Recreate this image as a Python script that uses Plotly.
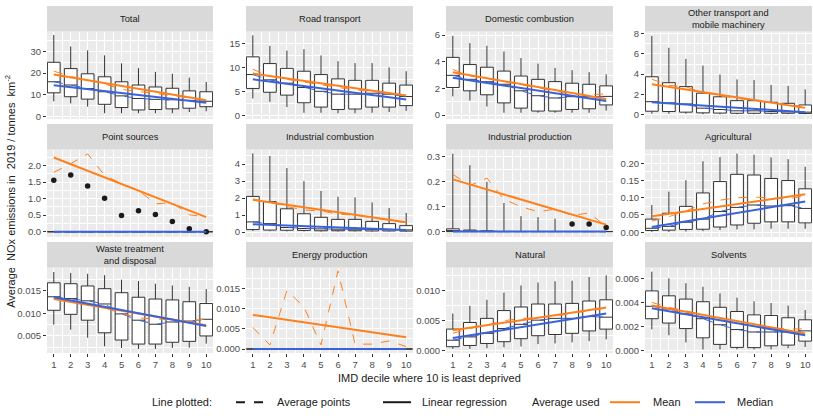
import plotly.graph_objects as go
from plotly.subplots import make_subplots

W, H = 813, 418
deciles = list(range(1, 11))

titles = ["Total", "Road transport", "Domestic combustion", "Other transport and<br>mobile machinery",
          "Point sources", "Industrial combustion", "Industrial production", "Agricultural",
          "Waste treatment<br>and disposal", "Energy production", "Natural", "Solvents"]

# ---------------- data ----------------
total_lo = [7, 6, 4.5, 1.5, 1.5, 1.5, 1.5, 1.5, 2, 2.4]
total_q1 = [10.9, 9.1, 8, 5.6, 4.1, 3, 3.2, 3.5, 3.8, 4.5]
total_med = [16, 14.5, 12.9, 11.4, 9.5, 8.3, 7.9, 7.7, 7.4, 7]
total_q3 = [25, 22.1, 19.7, 18.3, 16, 14.5, 13.6, 13, 11.8, 11.4]
total_hi = [37.6, 32.3, 30.5, 28.2, 24.5, 22.3, 20.6, 19.7, 17.9, 15.9]
total_mean = [20.9, 18.5, 16.8, 15.0, 12.5, 11.5, 10.5, 9.8, 8.8, 7.6]
total_mean_fit = [19.4, 7.5]
total_median_fit = [14.4, 6.3]

road_lo = [3.6, 2.9, 1.8, 0.6, 0.6, 0.5, 0.5, 0.6, 0.75, 1]
road_q1 = [5.7, 4.9, 4.3, 2.7, 1.8, 1.3, 1.4, 1.8, 1.8, 2.1]
road_med = [8.6, 7.5, 6.8, 5.9, 5.1, 4.5, 4.5, 4.7, 4.5, 4]
road_q3 = [12.3, 10.9, 9.9, 9.3, 8.6, 7.7, 7.4, 7.4, 6.8, 6.4]
road_hi = [16.8, 14.6, 13.6, 13.9, 12.6, 11.4, 11, 11, 10.1, 9.3]
road_mean = [9.7, 8.3, 7.6, 7.0, 6.4, 5.9, 5.4, 5.0, 4.7, 4.3]
road_mean_fit = [8.8, 4.2]
road_median_fit = [7.6, 3.4]

dom_lo = [1.4, 1.08, 0.64, 0.17, 0.17, 0.17, 0.17, 0.17, 0.17, 0.34]
dom_q1 = [2.07, 1.82, 1.52, 0.91, 0.52, 0.3, 0.3, 0.42, 0.47, 0.76]
dom_med = [2.98, 2.68, 2.5, 2.31, 1.82, 1.45, 1.28, 1.38, 1.38, 1.4]
dom_q3 = [4.33, 3.79, 3.59, 3.3, 2.93, 2.68, 2.51, 2.39, 2.31, 2.19]
dom_hi = [5.95, 5.4, 5.2, 4.77, 4.28, 3.86, 3.54, 3.37, 3.22, 3.05]
dom_mean = [3.42, 2.95, 2.75, 2.5, 2.25, 2.0, 1.8, 1.6, 1.5, 1.6]
dom_mean_fit = [3.22, 1.2]
dom_median_fit = [2.8, 1.06]

oth_lo = [0.1, 0.1, 0.1, 0.05, 0.05, 0.05, 0.05, 0.05, 0.05, 0.05]
oth_q1 = [0.35, 0.32, 0.26, 0.19, 0.17, 0.15, 0.15, 0.15, 0.15, 0.13]
oth_med = [1.29, 1.16, 1.06, 0.65, 0.52, 0.39, 0.39, 0.32, 0.29, 0.26]
oth_q3 = [3.74, 3.16, 2.77, 2.13, 1.77, 1.39, 1.39, 1.23, 1.13, 0.97]
oth_hi = [7.77, 6.6, 5.5, 4.84, 3.97, 3.48, 3.42, 2.94, 2.84, 2.5]
oth_mean = [3.5, 2.9, 2.75, 2.2, 1.85, 1.6, 1.4, 1.2, 1.0, 0.8]
oth_mean_fit = [3.0, 0.68]
oth_median_fit = [1.23, 0.26]

pt_zero = [0, 0, 0, 0, 0, 0, 0, 0, 0, 0]
pt_outliers = [1.55, 1.71, 1.38, 1.01, 0.49, 0.63, 0.52, 0.31, 0.09, 0.0]
pt_mean = [1.79, 2.05, 2.35, 1.7, 1.45, 1.25, 0.84, 0.88, 0.51, 0.45]
pt_mean_fit = [2.24, 0.44]
pt_median_fit = [0, 0]

ic_lo = [0.06, 0.05, 0.04, 0.04, 0.03, 0.03, 0.03, 0.03, 0.03, 0.03]
ic_q1 = [0.15, 0.12, 0.11, 0.1, 0.08, 0.08, 0.08, 0.07, 0.07, 0.06]
ic_med = [0.6, 0.5, 0.27, 0.21, 0.19, 0.17, 0.17, 0.15, 0.15, 0.13]
ic_q3 = [2.1, 1.79, 1.37, 1.08, 0.87, 0.75, 0.75, 0.63, 0.5, 0.38]
ic_hi = [4.63, 4.48, 3.77, 3.0, 2.42, 2.08, 2.04, 1.75, 1.42, 1.13]
ic_mean = [1.95, 1.75, 1.5, 1.3, 1.25, 1.05, 1.0, 0.85, 0.72, 0.55]
ic_mean_fit = [1.9, 0.58]
ic_median_fit = [0.46, 0.12]

ip_lo = [0, 0, 0, 0, 0, 0, 0, 0, 0, 0]
ip_q1 = [0, 0, 0, 0, 0, 0, 0, 0, 0, 0]
ip_med = [0.002, 0.001, 0, 0, 0, 0, 0, 0, 0, 0]
ip_q3 = [0.011, 0.006, 0.003, 0, 0, 0, 0, 0, 0, 0]
ip_hi = [0.313, 0.267, 0.2, 0.115, 0.062, 0.058, 0.052, 0, 0, 0]
ip_out_x = [8, 9, 10]
ip_outliers = [0.03, 0.03, 0.016]
ip_mean = [0.23, 0.185, 0.215, 0.13, 0.1, 0.08, 0.09, 0.065, 0.075, 0.02]
ip_mean_fit = [0.21, 0.028]
ip_median_fit = [0, 0]

ag_lo = [0.001, 0.001, 0.002, 0.003, 0.006, 0.008, 0.008, 0.01, 0.01, 0.01]
ag_q1 = [0.005, 0.006, 0.008, 0.0086, 0.015, 0.021, 0.026, 0.03, 0.03, 0.027]
ag_med = [0.0114, 0.017, 0.029, 0.038, 0.06, 0.072, 0.079, 0.076, 0.077, 0.069]
ag_q3 = [0.038, 0.055, 0.075, 0.114, 0.147, 0.168, 0.166, 0.156, 0.15, 0.126]
ag_hi = [0.079, 0.118, 0.151, 0.206, 0.218, 0.228, 0.225, 0.217, 0.212, 0.19]
ag_mean = [0.032, 0.045, 0.062, 0.082, 0.093, 0.1, 0.102, 0.1, 0.097, 0.105]
ag_mean_fit = [0.046, 0.11]
ag_median_fit = [0.015, 0.089]

wt_lo = [0.0075, 0.0064, 0.0046, 0.0027, 0.0023, 0.0021, 0.0021, 0.0023, 0.0024, 0.0033]
wt_q1 = [0.0107, 0.0098, 0.0085, 0.0057, 0.0041, 0.0032, 0.0032, 0.0036, 0.0038, 0.005]
wt_med = [0.0137, 0.0133, 0.0128, 0.0121, 0.0099, 0.0085, 0.0076, 0.0081, 0.0083, 0.0087]
wt_q3 = [0.0168, 0.0166, 0.0161, 0.0155, 0.0146, 0.0136, 0.0132, 0.013, 0.0126, 0.0122]
wt_hi = [0.0192, 0.019, 0.0188, 0.0185, 0.0175, 0.0172, 0.0166, 0.0162, 0.0159, 0.0154]
wt_mean = [0.0135, 0.0126, 0.0122, 0.0113, 0.01, 0.009, 0.0088, 0.0085, 0.0083, 0.0088]
wt_mean_fit = [0.0132, 0.0074]
wt_median_fit = [0.0136, 0.0072]

en_zero = [0, 0, 0, 0, 0, 0, 0, 0, 0, 0]
en_mean = [0.0053, 0.001, 0.0144, 0.0104, 0.001, 0.0193, 0.0012, 0.0012, 0.002, 0.0006]
en_mean_fit = [0.0084, 0.0029]
en_median_fit = [0, 0]

nat_lo = [0.0003, 0.0003, 0.0004, 0.00055, 0.0007, 0.0011, 0.0012, 0.0014, 0.0016, 0.0019]
nat_q1 = [0.00066, 0.00087, 0.0012, 0.0015, 0.002, 0.0025, 0.0027, 0.0029, 0.0033, 0.0036]
nat_med = [0.00175, 0.0023, 0.0029, 0.0037, 0.0044, 0.0051, 0.0054, 0.0054, 0.0057, 0.0056]
nat_q3 = [0.0036, 0.0047, 0.0054, 0.0067, 0.0073, 0.0078, 0.0078, 0.0079, 0.0083, 0.0085]
nat_hi = [0.0062, 0.0075, 0.0085, 0.0097, 0.0109, 0.0114, 0.0116, 0.0117, 0.0123, 0.0126]
nat_mean = [0.0029, 0.0037, 0.0043, 0.005, 0.0054, 0.0055, 0.0058, 0.0062, 0.0066, 0.0071]
nat_mean_fit = [0.0034, 0.0072]
nat_median_fit = [0.0021, 0.0062]

sol_lo = [0.00177, 0.00128, 0.00068, 0.0001, 0.0001, 0.0001, 0.0001, 0.0001, 0.0002, 0.0003]
sol_q1 = [0.00265, 0.00229, 0.00183, 0.00106, 0.00052, 0.00027, 0.00025, 0.0004, 0.00046, 0.00079]
sol_med = [0.00368, 0.00346, 0.00305, 0.00265, 0.00215, 0.00175, 0.00155, 0.00155, 0.00155, 0.00164]
sol_q3 = [0.00496, 0.00455, 0.00428, 0.00406, 0.0036, 0.00325, 0.00297, 0.00292, 0.00273, 0.00256]
sol_hi = [0.00655, 0.006, 0.0056, 0.0053, 0.00475, 0.0044, 0.0041, 0.00395, 0.00374, 0.00338]
sol_mean = [0.004, 0.0036, 0.0033, 0.003, 0.0026, 0.0023, 0.002, 0.0019, 0.0018, 0.0018]
sol_mean_fit = [0.00374, 0.00142]
sol_median_fit = [0.00352, 0.00128]

# tick values / labels per panel
ticks = [
    ([0, 10, 20, 30], ["0", "10", "20", "30"], [5, 15, 25, 35]),
    ([0, 5, 10, 15], ["0", "5", "10", "15"], [2.5, 7.5, 12.5, 17.5]),
    ([0, 2, 4, 6], ["0", "2", "4", "6"], [1, 3, 5]),
    ([0, 2, 4, 6, 8], ["0", "2", "4", "6", "8"], [1, 3, 5, 7]),
    ([0, 0.5, 1, 1.5, 2], ["0.0", "0.5", "1.0", "1.5", "2.0"], [0.25, 0.75, 1.25, 1.75, 2.25]),
    ([0, 1, 2, 3, 4], ["0", "1", "2", "3", "4"], [0.5, 1.5, 2.5, 3.5, 4.5]),
    ([0, 0.1, 0.2, 0.3], ["0.0", "0.1", "0.2", "0.3"], [0.05, 0.15, 0.25]),
    ([0, 0.05, 0.1, 0.15, 0.2], ["0.00", "0.05", "0.10", "0.15", "0.20"], [0.025, 0.075, 0.125, 0.175, 0.225]),
    ([0.005, 0.01, 0.015], ["0.005", "0.010", "0.015"], [0.0025, 0.0075, 0.0125, 0.0175]),
    ([0, 0.005, 0.01, 0.015], ["0.000", "0.005", "0.010", "0.015"], [0.0025, 0.0075, 0.0125, 0.0175]),
    ([0, 0.005, 0.01], ["0.000", "0.005", "0.010"], [0.0025, 0.0075, 0.0125]),
    ([0, 0.002, 0.004, 0.006], ["0.000", "0.002", "0.004", "0.006"], [0.001, 0.003, 0.005]),
]
yranges = [[-1.2, 39.2], [-0.7, 17.6], [-0.3, 6.27], [-0.42, 8.2], [-0.16, 2.48], [-0.29, 4.86],
           [-0.022, 0.33], [-0.014, 0.24], [0.0012, 0.0202], [-0.001, 0.0201], [-0.0004, 0.0139],
           [-0.0002, 0.0069]]

panels = [
    (total_lo, total_q1, total_med, total_q3, total_hi, total_mean, total_mean_fit, total_median_fit),
    (road_lo, road_q1, road_med, road_q3, road_hi, road_mean, road_mean_fit, road_median_fit),
    (dom_lo, dom_q1, dom_med, dom_q3, dom_hi, dom_mean, dom_mean_fit, dom_median_fit),
    (oth_lo, oth_q1, oth_med, oth_q3, oth_hi, oth_mean, oth_mean_fit, oth_median_fit),
    (pt_zero, pt_zero, pt_zero, pt_zero, pt_zero, pt_mean, pt_mean_fit, pt_median_fit),
    (ic_lo, ic_q1, ic_med, ic_q3, ic_hi, ic_mean, ic_mean_fit, ic_median_fit),
    (ip_lo, ip_q1, ip_med, ip_q3, ip_hi, ip_mean, ip_mean_fit, ip_median_fit),
    (ag_lo, ag_q1, ag_med, ag_q3, ag_hi, ag_mean, ag_mean_fit, ag_median_fit),
    (wt_lo, wt_q1, wt_med, wt_q3, wt_hi, wt_mean, wt_mean_fit, wt_median_fit),
    (en_zero, en_zero, en_zero, en_zero, en_zero, en_mean, en_mean_fit, en_median_fit),
    (nat_lo, nat_q1, nat_med, nat_q3, nat_hi, nat_mean, nat_mean_fit, nat_median_fit),
    (sol_lo, sol_q1, sol_med, sol_q3, sol_hi, sol_mean, sol_mean_fit, sol_median_fit),
]
outliers = {4: (deciles, pt_outliers), 6: (ip_out_x, ip_outliers)}

ORANGE = "#FF7F1A"
BLUE = "#3A62D9"
FONT = "Liberation Sans, Arial, sans-serif"

col_px = [(47, 213), (246, 413), (446, 613), (645, 812)]
row_px = [(28, 117), (148, 237), (268, 355)]
strip_h = 26

def px(x):
    return x / W
def py(y):
    return 1 - y / H

fig = make_subplots(rows=3, cols=4)

for i, (lo, q1, med, q3, hi, mean, mfit, mdfit) in enumerate(panels):
    r, c = i // 4 + 1, i % 4 + 1
    fig.add_trace(go.Box(x=deciles, q1=q1, median=med, q3=q3, lowerfence=lo, upperfence=hi,
                         width=0.75, whiskerwidth=0, boxpoints=False, fillcolor="white",
                         line=dict(color="#333333", width=1), showlegend=False, hoverinfo="skip"),
                  row=r, col=c)
    if i in outliers:
        ox, oy = outliers[i]
        fig.add_trace(go.Scatter(x=ox, y=oy, mode="markers", marker=dict(color="#1A1A1A", size=5.5),
                                 showlegend=False, hoverinfo="skip", cliponaxis=False), row=r, col=c)
    fig.add_trace(go.Scatter(x=deciles, y=med, mode="lines", line=dict(color=BLUE, width=1, dash="dash"),
                             showlegend=False, hoverinfo="skip"), row=r, col=c)
    fig.add_trace(go.Scatter(x=deciles, y=mean, mode="lines", line=dict(color=ORANGE, width=1, dash="dash"),
                             showlegend=False, hoverinfo="skip"), row=r, col=c)
    fig.add_trace(go.Scatter(x=[1, 10], y=mfit, mode="lines", line=dict(color=ORANGE, width=2),
                             showlegend=False, hoverinfo="skip"), row=r, col=c)
    fig.add_trace(go.Scatter(x=[1, 10], y=mdfit, mode="lines", line=dict(color=BLUE, width=2),
                             showlegend=False, hoverinfo="skip"), row=r, col=c)

shapes = []
annotations = []
for i in range(12):
    r, c = i // 4, i % 4
    x0, x1 = col_px[c]
    y0, y1 = row_px[r]
    xd = [px(x0), px(x1)]
    yd = [py(y1), py(y0)]
    axn = "" if i == 0 else str(i + 1)
    tv, tt, mv = ticks[i]
    bottom = (r == 2)
    fig.layout["xaxis" + axn].update(
        domain=xd, range=[0.6, 10.4], tickmode="array", tickvals=deciles,
        ticktext=[str(d) for d in deciles], showticklabels=bottom, ticklabeloverflow="allow",
        ticks="outside" if bottom else "", ticklen=3, tickcolor="#333333", tickwidth=1,
        showgrid=True, gridcolor="white", gridwidth=1, zeroline=False, showline=False,
        minor=dict(tickmode="array", tickvals=[d + 0.5 for d in deciles[:-1]], showgrid=True,
                   gridcolor="white", gridwidth=0.5, ticks=""),
        tickfont=dict(size=9.5, color="#4D4D4D", family=FONT))
    fig.layout["yaxis" + axn].update(
        domain=yd, range=yranges[i], tickmode="array", tickvals=tv, ticktext=tt,
        ticks="outside", ticklen=3, tickcolor="#333333", tickwidth=1, ticklabeloverflow="allow",
        showgrid=True, gridcolor="white", gridwidth=1, zeroline=False, showline=False,
        minor=dict(tickmode="array", tickvals=mv, showgrid=True, gridcolor="white", gridwidth=0.5, ticks=""),
        tickfont=dict(size=9.5, color="#4D4D4D", family=FONT))
    # panel background
    shapes.append(dict(type="rect", xref="paper", yref="paper", x0=xd[0], x1=xd[1], y0=yd[0], y1=yd[1],
                       fillcolor="#EBEBEB", line=dict(width=0), layer="below"))
    # strip
    shapes.append(dict(type="rect", xref="paper", yref="paper", x0=xd[0], x1=xd[1], y0=py(y0),
                       y1=py(y0 - strip_h), fillcolor="#D9D9D9", line=dict(width=0), layer="below"))
    annotations.append(dict(text=titles[i], xref="paper", yref="paper", x=px((x0 + x1) / 2),
                            y=py(y0 - strip_h / 2), showarrow=False, xanchor="center", yanchor="middle",
                            font=dict(size=9.3, color="#1A1A1A", family=FONT)))

# axis titles
annotations.append(dict(text="IMD decile where 10 is least deprived", xref="paper", yref="paper",
                        x=px((47 + 812) / 2), y=py(380), showarrow=False, xanchor="center", yanchor="middle",
                        font=dict(size=11, color="#1A1A1A", family=FONT)))
annotations.append(dict(text="Average\u00a0\u00a0NOx emissions in\u00a0\u00a02019 / tonnes\u00a0\u00a0km<sup>-2</sup>",
                        xref="paper", yref="paper", x=px(10), y=py(191), showarrow=False, textangle=-90,
                        xanchor="center", yanchor="middle", font=dict(size=11, color="#1A1A1A", family=FONT)))

# legend (manual)
ly = py(405)
def leg_text(t, x):
    annotations.append(dict(text=t, xref="paper", yref="paper", x=px(x), y=ly, showarrow=False,
                            xanchor="left", yanchor="middle", font=dict(size=11, color="#1A1A1A", family=FONT)))
def leg_line(x0, x1, color, dash=None):
    shapes.append(dict(type="line", xref="paper", yref="paper", x0=px(x0), x1=px(x1), y0=ly, y1=ly,
                       line=dict(color=color, width=2, dash=dash or "solid")))
leg_text("Line plotted:", 150)
leg_line(236, 266, "#1A1A1A", "dash")
leg_text("Average points", 275)
leg_line(383, 411, "#1A1A1A")
leg_text("Linear regression", 420)
leg_text("Average used", 530)
leg_line(610, 640, ORANGE)
leg_text("Mean", 651)
leg_line(695, 725, BLUE)
leg_text("Median", 735)

fig.update_layout(width=W, height=H, margin=dict(l=0, r=0, t=0, b=0),
                  plot_bgcolor="rgba(0,0,0,0)", paper_bgcolor="white", shapes=shapes,
                  annotations=annotations, showlegend=False, font=dict(family=FONT))
fig.write_html("out.html", config={"displayModeBar": False},
               post_script="document.body.style.margin='0px';document.body.style.overflow='hidden';")
